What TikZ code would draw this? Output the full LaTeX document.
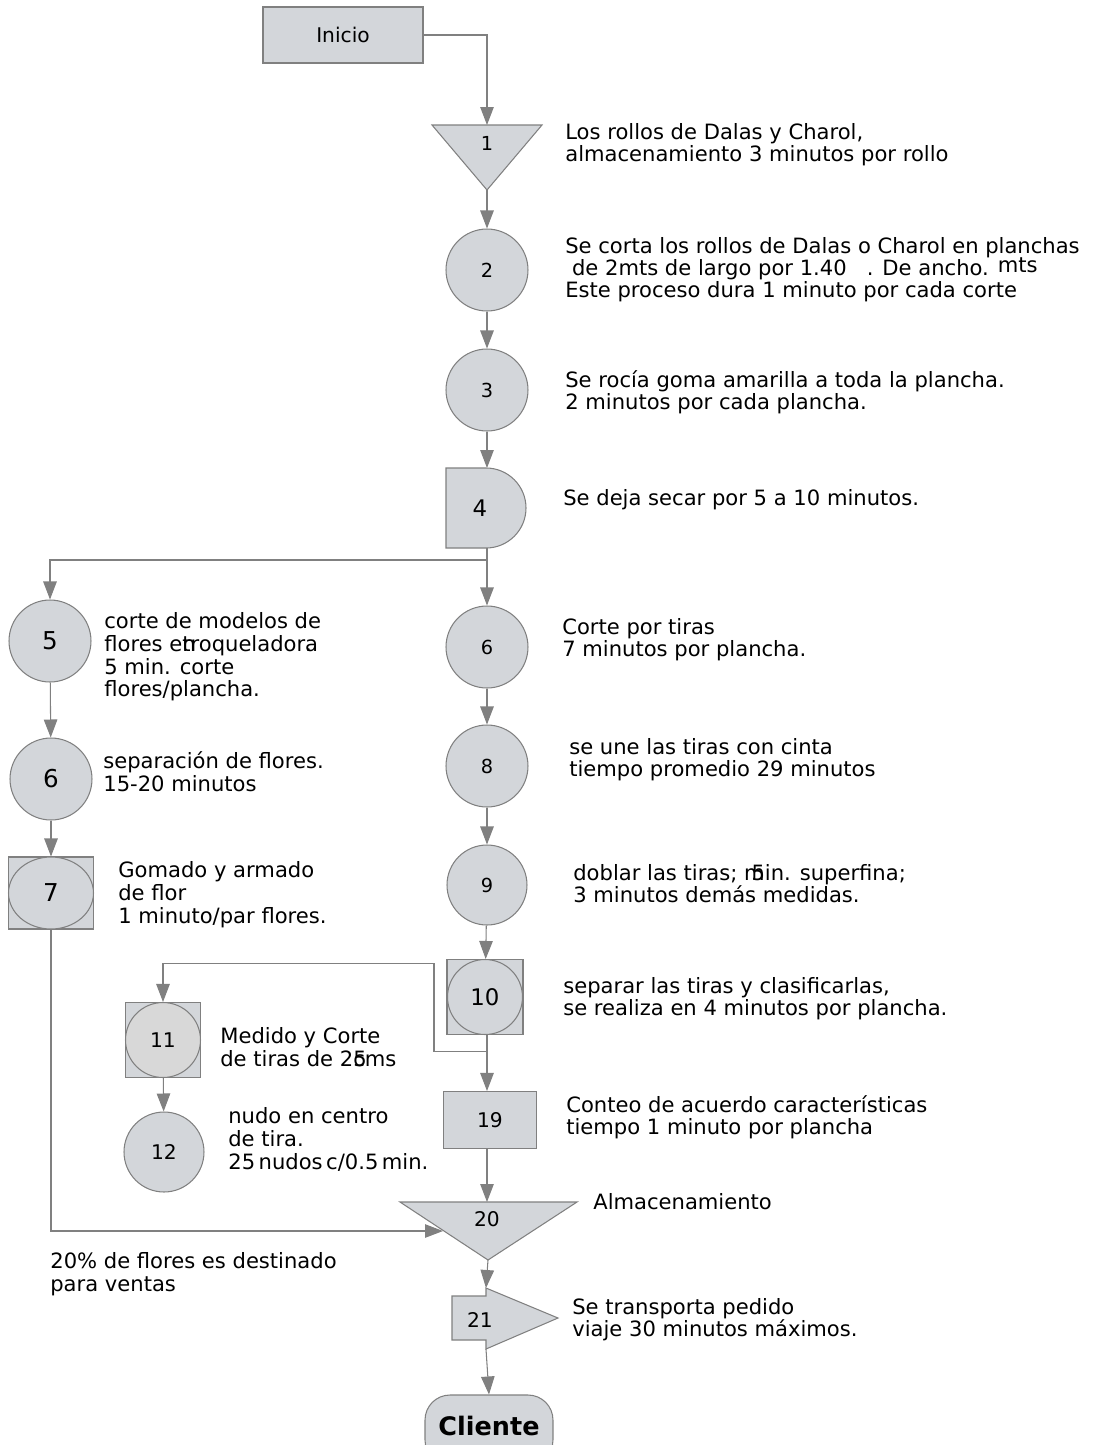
\documentclass[tikz,border=0pt]{standalone}
\usepackage{fontspec}
\setmainfont{DejaVu Sans}
\usetikzlibrary{arrows.meta,shapes.geometric}
\definecolor{cajagris}{RGB}{211,214,218}
\definecolor{lineagris}{RGB}{128,128,128}

\begin{document}
\begin{tikzpicture}[x=0.02cm, y=-0.02cm,
    linea/.style={draw=lineagris, line width=0.6pt},
    flecha/.style={linea, -{Triangle[length=0.36cm, width=0.27cm]}},
    forma/.style={fill=cajagris, draw=lineagris, line width=0.6pt},
    operacion/.style={forma, circle, minimum size=1.64cm, inner sep=0pt},
    cuadro/.style={forma, rectangle, inner sep=0pt},
    nota/.style={anchor=north west, inner sep=0pt, align=left, font=\fontsize{12}{12.6}\selectfont},
    notaizq/.style={nota, font=\fontsize{12}{13}\selectfont},
    numero/.style={inner sep=0pt, font=\fontsize{11}{13}\selectfont},
    numerogrande/.style={inner sep=0pt, font=\fontsize{14}{16}\selectfont}]

    \useasboundingbox (0,0) rectangle (1097,1445);

    % inicio y almacen 1
    \node[cuadro, minimum width=3.2cm, minimum height=1.12cm, font=\fontsize{11.5}{13}\selectfont] (inicio) at (343,35) {Inicio};
    \filldraw[forma] (432,125) -- (542,125) -- (487,190) -- cycle;
    \node[numero] (n1) at (487,143) {1};
    \coordinate (alm1arr) at (487,125);
    \coordinate (alm1ab) at (487,190);
    \node[nota] (t1) at (565,123) {Los rollos de Dalas y Charol,\\almacenamiento 3 minutos por rollo};

    % columna derecha
    \node[operacion, numero] (c2) at (487,270) {2};
    \node[nota] (t2) at (565,237) {Se corta los rollos de Dalas o Charol en planchas\\
        \ de 2mts de largo por 1.40\ \ \ . De ancho. \raisebox{1.5pt}{mts}\\
        Este proceso dura 1 minuto por cada corte};
    \node[operacion, numero] (c3) at (487,390) {3};
    \node[nota] (t3) at (565,370) {Se rocía goma amarilla a toda la plancha.\\2 minutos por cada plancha.};

    % demora 4
    \filldraw[forma] (446,468) -- (486,468) arc[start angle=-90, end angle=90, radius=40] -- (446,548) -- cycle;
    \node[numero, font=\fontsize{13}{15}\selectfont] (n4) at (480,508) {4};
    \coordinate (dem4arr) at (487,468);
    \coordinate (dem4ab) at (487,548);
    \coordinate (division) at (487,560);
    \node[nota] (t4) at (563,489) {Se deja secar por 5 a 10 minutos.};

    \node[operacion, numero] (c6) at (487,647) {6};
    \node[nota] (t6) at (562,618) {Corte por tiras\\7 minutos por plancha.};
    \node[operacion, numero] (c8) at (487,766) {8};
    \node[nota] (t8) at (569,738) {se une las tiras con cinta\\tiempo promedio 29 minutos};
    \node[operacion, numero, minimum size=1.6cm] (c9) at (487,885) {9};
    \node[nota] (t9) at (573,864) {doblar las tiras; \rlap{m}\hspace{0.35em}5in. superfina;\\3 minutos demás medidas.};
    \node[cuadro, minimum width=1.52cm, minimum height=1.5cm] (b10) at (485,997) {};
    \node[operacion, minimum size=1.5cm, font=\fontsize{13}{15}\selectfont] (c10) at (b10) {10};
    \node[nota] (t10) at (563,977) {separar las tiras y clasificarlas,\\se realiza en 4 minutos por plancha.};
    \node[cuadro, minimum width=1.86cm, minimum height=1.14cm, font=\fontsize{11.5}{13}\selectfont] (b19) at (490,1120) {19};
    \node[nota] (t19) at (566,1095) {Conteo de acuerdo características\\tiempo 1 minuto por plancha};

    % columna izquierda
    \node[operacion, numerogrande] (c5) at (50,641) {5};
    \node[notaizq] (t5) at (104,612) {corte de modelos de\\flores e\rlap{n}troquelador\rlap{.}a\\5 min. corte\\flores/plancha.};
    \node[operacion, numerogrande] (c6i) at (51,779) {6};
    \node[notaizq] (t6i) at (103,751) {separación de flores.\\15-20 minutos};
    \node[cuadro, minimum width=1.7cm, minimum height=1.44cm] (b7) at (51,893) {};
    \node[forma, ellipse, minimum width=1.7cm, minimum height=1.44cm, inner sep=0pt, font=\fontsize{14}{16}\selectfont] (c7) at (b7) {7};
    \node[notaizq] (t7) at (118,861) {Gomado y armado\\de flor\\1 minuto/par flores.};

    % ramal 11 y 12
    \node[cuadro, minimum width=1.5cm, minimum height=1.5cm] (b11) at (163,1040) {};
    \node[forma, circle, minimum size=1.5cm, inner sep=0pt, fill={rgb,255:red,216;green,216;blue,216}, font=\fontsize{11.5}{13}\selectfont] (c11) at (b11) {11};
    \node[notaizq] (t11) at (220,1027) {Medido y Corte\\de tiras de 2\rlap{5}cms};
    \node[operacion, minimum size=1.6cm, font=\fontsize{11.5}{13}\selectfont] (c12) at (164,1152) {12};
    \node[notaizq] (t12) at (228,1107) {nudo en centro\\de tira.\\25\,nudos\,c/0.5\,min.};

    % almacen 20, transporte 21, cliente
    \filldraw[forma] (400,1202) -- (577,1202) -- (488,1260) -- cycle;
    \node[numero, font=\fontsize{11.5}{13}\selectfont] (n20) at (487,1219) {20};
    \coordinate (alm20arr) at (487,1202);
    \coordinate (alm20izq) at (443,1231);
    \coordinate (alm20ab) at (488,1260);
    \node[nota] (t20) at (593,1193) {Almacenamiento};
    \node[notaizq] (tventas) at (50,1252) {20\% de flores es destinado\\para ventas};

    \filldraw[forma] (452,1296) -- (486,1296) -- (486,1288) -- (558,1318) -- (486,1349) -- (486,1340) -- (452,1340) -- cycle;
    \node[numero, font=\fontsize{11.5}{13}\selectfont] (n21) at (480,1320) {21};
    \coordinate (tr21arr) at (486,1288);
    \coordinate (tr21ab) at (486,1349);
    \node[nota] (t21) at (572,1298) {Se transporta pedido\\viaje 30 minutos máximos.};
    \node[forma, rounded corners=0.5cm, minimum width=2.56cm, minimum height=1.4cm, font=\bfseries\fontsize{14.5}{16}\selectfont] (cliente) at (489,1430) {\raisebox{5pt}{Cliente}};

    % conectores
    \draw[flecha] (inicio.east) -| (alm1arr);
    \draw[flecha] (alm1ab) -- (c2);
    \draw[flecha] (c2) -- (c3);
    \draw[flecha] (c3) -- (dem4arr);
    \draw[flecha] (dem4ab) -- (c6);
    \draw[flecha] (division) -| (c5.north);
    \draw[flecha] (c5) -- (c6i);
    \draw[flecha] (c6i) -- (b7);
    \draw[flecha] (b7.south) |- (alm20izq);
    \draw[flecha] (c6) -- (c8);
    \draw[flecha] (c8) -- (c9);
    \draw[flecha] (c9) -- (b10);
    \draw[flecha] (b10.south -| c9) -- (b19.north -| c9);
    \draw[flecha] (b10.south -| c9) -- ++(0,16) -- ++(-53,0) -- ++(0,-88) -| (b11.north);
    \draw[flecha] (b11) -- (c12);
    \draw[flecha] (b19.south -| c9) -- (alm20arr);
    \draw[flecha] (alm20ab) -- (tr21arr);
    \draw[flecha] (tr21ab) -- (cliente.north);
\end{tikzpicture}
\end{document}
